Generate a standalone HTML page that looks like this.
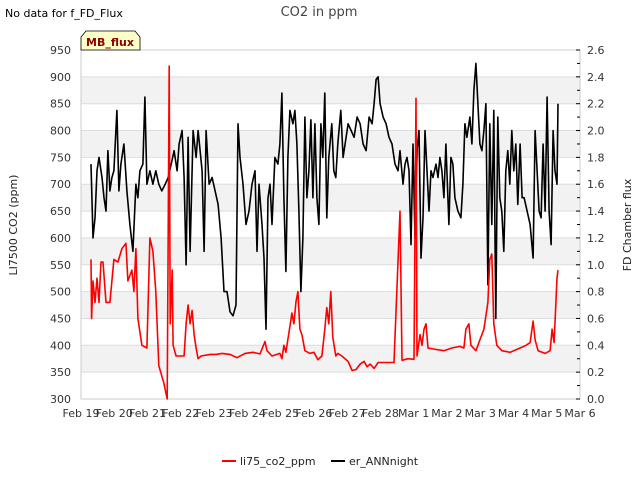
<!DOCTYPE html>
<html><head><meta charset="utf-8"><style>
body{margin:0;background:#fff;font-family:"Liberation Sans","DejaVu Sans",sans-serif}
svg text{font-family:"DejaVu Sans","Liberation Sans",sans-serif}
</style></head><body>
<svg id="chart" width="640" height="480" xmlns="http://www.w3.org/2000/svg">
<text x="5" y="17" font-size="11" fill="#000">No data for f_FD_Flux</text>
<text x="319" y="16" font-size="13" fill="#444" text-anchor="middle">CO2 in ppm</text>
<g id="bands"></g><g id="grid"></g>
<rect x="81" y="50" width="499" height="349" fill="none" stroke="#ccc"/>
<g id="axes"></g>
<g id="series"></g>
<path d="M81,50 L81,37 L86,31 L135,31 L140,37 L140,50 Z" fill="#ffffc8" stroke="#000" stroke-width="0.8"/>
<text x="110" y="46" font-size="11" font-weight="bold" fill="#8b0000" text-anchor="middle">MB_flux</text>
<text transform="translate(17,225) rotate(-90)" font-size="11" text-anchor="middle" fill="#222">LI7500 CO2 (ppm)</text>
<text transform="translate(631,225) rotate(-90)" font-size="11" text-anchor="middle" fill="#222">FD Chamber flux</text>
<g>
<line x1="222" y1="461" x2="236" y2="461" stroke="#f00" stroke-width="2"/>
<text x="240" y="465" font-size="11" fill="#222">li75_co2_ppm</text>
<line x1="331" y1="461" x2="345" y2="461" stroke="#000" stroke-width="2"/>
<text x="349" y="465" font-size="11" fill="#222">er_ANNnight</text>
</g>
</svg>
<script>
const xTickLabels=["Feb 19","Feb 20","Feb 21","Feb 22","Feb 23","Feb 24","Feb 25","Feb 26","Feb 27","Feb 28","Mar 1","Mar 2","Mar 3","Mar 4","Mar 5","Mar 6"];
const leftTicks=[300,350,400,450,500,550,600,650,700,750,800,850,900,950];
const rightTicks=[0,0.2,0.4,0.6,0.8,1.0,1.2,1.4,1.6,1.8,2.0,2.2,2.4,2.6];
const co2Days=[0.30,0.32,0.36,0.42,0.48,0.54,0.60,0.66,0.75,0.87,0.99,1.11,1.23,1.35,1.41,1.53,1.59,1.65,1.71,1.83,1.98,2.07,2.16,2.25,2.34,2.49,2.59,2.65,2.68,2.74,2.77,2.86,2.98,3.10,3.16,3.22,3.28,3.34,3.40,3.46,3.52,3.61,3.88,4.06,4.24,4.48,4.69,4.93,5.17,5.38,5.53,5.59,5.74,5.98,6.04,6.10,6.16,6.28,6.34,6.40,6.46,6.52,6.58,6.64,6.73,6.88,7.00,7.12,7.24,7.33,7.39,7.45,7.51,7.57,7.66,7.72,7.84,8.03,8.15,8.27,8.39,8.51,8.60,8.69,8.81,8.93,9.41,9.59,9.65,9.83,10.01,10.07,10.10,10.19,10.25,10.31,10.37,10.43,10.61,10.91,11.15,11.39,11.51,11.57,11.66,11.72,11.87,11.99,12.11,12.23,12.29,12.35,12.41,12.50,12.65,12.90,13.20,13.38,13.50,13.59,13.65,13.74,13.95,14.10,14.16,14.22,14.31,14.34];
const co2Values=[560,450,520,480,525,480,555,555,480,480,560,555,580,590,520,540,500,580,450,400,395,600,575,500,362,330,300,920,440,540,400,380,380,380,440,475,440,465,420,395,375,380,383,383,385,383,377,385,387,384,407,390,380,385,375,400,387,435,460,440,480,500,430,420,390,385,387,373,380,430,470,440,500,415,380,385,380,370,353,355,365,370,360,365,357,368,368,650,372,375,374,860,380,420,400,430,440,395,393,390,395,398,395,430,440,400,390,410,430,480,560,570,440,400,390,387,395,400,405,445,410,390,385,390,430,405,525,540];
const annDays=[.30,.36,.42,.48,.54,.63,.69,.75,.81,.87,.93,.99,1.08,1.14,1.20,1.29,1.38,1.47,1.56,1.65,1.71,1.77,1.86,1.92,1.98,2.07,2.16,2.25,2.34,2.43,2.53,2.62,2.71,2.80,2.89,2.95,3.04,3.10,3.16,3.22,3.28,3.37,3.46,3.52,3.64,3.70,3.76,3.85,3.94,4.03,4.12,4.21,4.30,4.39,4.48,4.57,4.66,4.72,4.78,4.87,4.96,5.05,5.14,5.23,5.29,5.35,5.44,5.50,5.56,5.62,5.68,5.74,5.83,5.92,5.98,6.04,6.10,6.16,6.22,6.28,6.37,6.43,6.49,6.55,6.61,6.67,6.73,6.79,6.85,6.91,6.97,7.03,7.09,7.15,7.21,7.27,7.33,7.39,7.45,7.54,7.60,7.66,7.72,7.81,7.88,7.94,8.03,8.12,8.21,8.30,8.39,8.48,8.57,8.66,8.75,8.81,8.87,8.93,8.99,9.08,9.17,9.26,9.35,9.44,9.53,9.59,9.68,9.74,9.80,9.86,9.92,9.98,10.04,10.10,10.16,10.22,10.28,10.34,10.40,10.46,10.52,10.58,10.67,10.73,10.79,10.85,10.91,10.97,11.06,11.12,11.18,11.24,11.33,11.42,11.48,11.54,11.60,11.69,11.75,11.81,11.87,11.93,11.99,12.05,12.11,12.17,12.23,12.29,12.35,12.41,12.47,12.53,12.59,12.65,12.71,12.77,12.83,12.89,12.95,13.01,13.07,13.13,13.20,13.26,13.32,13.41,13.50,13.59,13.65,13.71,13.77,13.83,13.89,13.95,14.01,14.07,14.13,14.19,14.25,14.31,14.34];
const annValues=[1.75,1.2,1.35,1.7,1.8,1.65,1.5,1.4,1.85,1.55,1.65,1.7,2.15,1.55,1.75,1.9,1.55,1.3,1.1,1.6,1.5,1.7,1.75,2.25,1.6,1.7,1.6,1.7,1.6,1.55,1.6,1.65,1.75,1.85,1.7,1.9,2.0,1.65,1.0,1.95,1.1,2.0,1.8,2.0,1.7,1.1,2.0,1.6,1.65,1.55,1.45,1.2,0.8,0.8,0.65,0.62,0.7,2.05,1.8,1.6,1.3,1.4,1.6,1.7,1.1,1.6,1.3,1.05,0.52,1.5,1.6,1.3,1.8,1.75,1.9,2.28,1.5,0.95,1.8,2.15,2.05,2.15,1.9,1.4,0.8,1.2,2.1,1.5,1.7,2.08,1.5,2.05,1.5,1.3,2.05,1.8,2.28,1.35,1.8,2.05,1.7,1.65,1.9,2.15,1.8,1.9,2.05,2.0,1.95,2.1,2.05,1.9,1.85,2.1,2.05,2.2,2.38,2.4,2.2,2.1,2.05,1.95,1.9,1.75,1.7,1.85,1.6,1.75,1.8,1.7,1.15,1.9,1.2,1.85,2.0,1.05,1.35,2.0,1.7,1.4,1.7,1.65,1.75,1.65,1.8,1.7,1.5,1.9,1.3,1.8,1.75,1.5,1.4,1.35,1.6,2.05,1.95,2.1,1.9,2.3,2.5,2.2,1.9,1.85,2.0,2.2,0.85,2.05,1.3,2.15,0.6,2.1,1.5,1.4,1.1,1.7,1.85,1.6,2.0,1.7,1.9,1.45,1.9,1.5,1.5,1.4,1.3,1.05,2.0,1.7,1.4,1.35,1.9,1.4,2.25,1.4,1.15,2.0,1.7,1.6,2.2];

const NS="http://www.w3.org/2000/svg";
const X0=81,X1=580,Y0=399,Y1=50;
const xScale=d=>X0+d*(X1-X0)/15;
const yLeft=v=>Y0-(v-300)*(Y0-Y1)/650;
const yRight=v=>Y0-v*(Y0-Y1)/2.6;
function mk(tag,attrs,parent){const e=document.createElementNS(NS,tag);for(const k in attrs)e.setAttribute(k,attrs[k]);parent.appendChild(e);return e;}
const bands=document.getElementById('bands'),grid=document.getElementById('grid'),axes=document.getElementById('axes'),series=document.getElementById('series');
for(let i=0;i<leftTicks.length-1;i++){
  if(i%2===1){const r=mk('rect',{x:X0,y:yLeft(leftTicks[i+1]),width:X1-X0,height:yLeft(leftTicks[i])-yLeft(leftTicks[i+1]),fill:'#f2f2f2'},bands);
  
  }
}
leftTicks.forEach(v=>{const y=yLeft(v);
  const l=mk('line',{x1:X0,x2:X1,y1:y,y2:y,stroke:'#ddd','stroke-width':1},grid);
  
  
  const t=mk('text',{x:X0-10,y:y+4,'font-size':11,'text-anchor':'end',fill:'#333'},axes);t.textContent=v;
  
  
});
rightTicks.forEach(v=>{const y=yRight(v);
  const t=mk('text',{x:X1+7,y:y+4,'font-size':11,fill:'#333'},axes);t.textContent=v.toFixed(1);
  
  
  mk('line',{x1:X1,x2:X1-4,y1:y,y2:y,stroke:'#000'},axes);
  if(v<2.6){const ym=yRight(v+0.1);mk('line',{x1:X1,x2:X1-3,y1:ym,y2:ym,stroke:'#000'},axes);}
});
xTickLabels.forEach((s,i)=>{const t=mk('text',{x:xScale(i),y:417,'font-size':11,'text-anchor':'middle',fill:'#333'},axes);t.textContent=s;
  
  
});
function line(days,vals,ys,color,name){
  const d=days.map((dd,i)=>(i?'L':'M')+xScale(dd).toFixed(1)+','+ys(vals[i]).toFixed(1)).join(' ');
  const p=mk('path',{d:d,fill:'none',stroke:color,'stroke-width':1.6,'stroke-linejoin':'round'},series);
  
  
}
line(annDays,annValues,yRight,'#000','annnight-line');
line(co2Days,co2Values,yLeft,'#f00','co2-line');
</script>
</body></html>
